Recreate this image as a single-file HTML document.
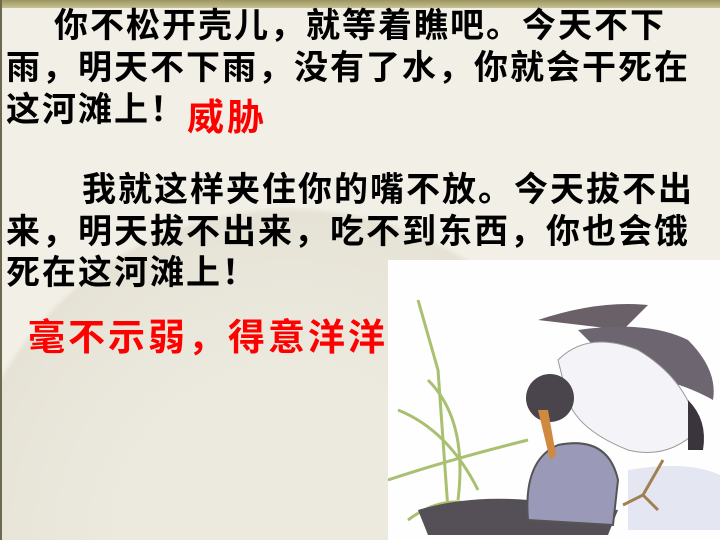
<!DOCTYPE html>
<html><head><meta charset="utf-8"><style>
html,body{margin:0;width:720px;height:540px;overflow:hidden}
#slide{position:relative;width:720px;height:540px;overflow:hidden;background:#f1efe6;font-family:"Liberation Sans","Noto Sans CJK SC",sans-serif}
.topbar{position:absolute;left:0;top:0;width:720px;height:8px;background:linear-gradient(#9a9460,#c9c394)}
.leftline{position:absolute;left:0;top:0;width:2px;height:540px;background:#6b6a50}
.t{position:absolute;font-size:34px;font-weight:bold;color:#000;letter-spacing:2px;white-space:nowrap;line-height:40px}
.r{color:#ff0000;font-size:37px;letter-spacing:3px}
.fan{position:absolute;left:-60px;top:120px;width:700px;height:420px;border-radius:50% 50% 0 0;background:radial-gradient(circle at 50% 100%,#eceadf 30%,#e6e3d6 60%,#f1efe6 61%)}
</style></head><body>
<div id="slide">
<div class="fan"></div>
<div class="topbar"></div>
<div class="leftline"></div>
<div class="t" style="left:54px;top:6px">你不松开壳儿，就等着瞧吧。今天不下</div>
<div class="t" style="left:6px;top:48px">雨，明天不下雨，没有了水，你就会干死在</div>
<div class="t" style="left:6px;top:90px">这河滩上！</div>
<div class="t r" style="left:187px;top:98px">威胁</div>
<div class="t" style="left:82px;top:170px">我就这样夹住你的嘴不放。今天拔不出</div>
<div class="t" style="left:6px;top:212px">来，明天拔不出来，吃不到东西，你也会饿</div>
<div class="t" style="left:6px;top:253px">死在这河滩上！</div>
<div class="t r" style="left:28px;top:318px">毫不示弱，得意洋洋</div>
<svg style="position:absolute;left:388px;top:260px;display:block" width="332" height="280">
<rect width="332" height="280" fill="#fefefe"/>
<g stroke="#a8c070" stroke-width="3" fill="none">
<path d="M30 40 L50 110 L60 250"/><path d="M10 150 Q60 170 90 230"/><path d="M40 120 Q80 160 70 240"/><path d="M0 220 Q60 200 140 180"/><path d="M20 260 Q60 230 100 250"/>
</g>
<path d="M30 250 Q80 235 140 240 L230 250 L220 275 L40 275Z" fill="#555058"/>
<path d="M140 260 Q135 200 170 185 Q220 175 230 220 L225 265Z" fill="#9a9ab8" stroke="#555" stroke-width="2"/>
<path d="M240 210 Q300 200 332 215 L332 270 L240 270Z" fill="#e4e6f2"/>
<path d="M150 60 Q210 40 260 45 L235 70Z" fill="#6a6068"/>
<path d="M190 70 Q260 60 300 80 Q330 110 325 140 Q290 120 230 110Z" fill="#6d6570"/>
<path d="M170 100 Q200 70 250 90 Q300 120 310 170 Q280 200 240 190 Q190 170 180 140Z" fill="#f4f4f8" stroke="#999" stroke-width="1"/>
<circle cx="162" cy="138" r="24" fill="#4a454c"/>
<path d="M150 150 L162 200 L168 195 L160 150Z" fill="#d08a40"/>
<path d="M300 140 Q320 160 315 190 L300 190Z" fill="#3a353c"/>
<path d="M275 200 L255 235 L235 245 M255 235 L270 250" stroke="#a08050" stroke-width="3" fill="none"/>
</svg>
</div>
</body></html>
